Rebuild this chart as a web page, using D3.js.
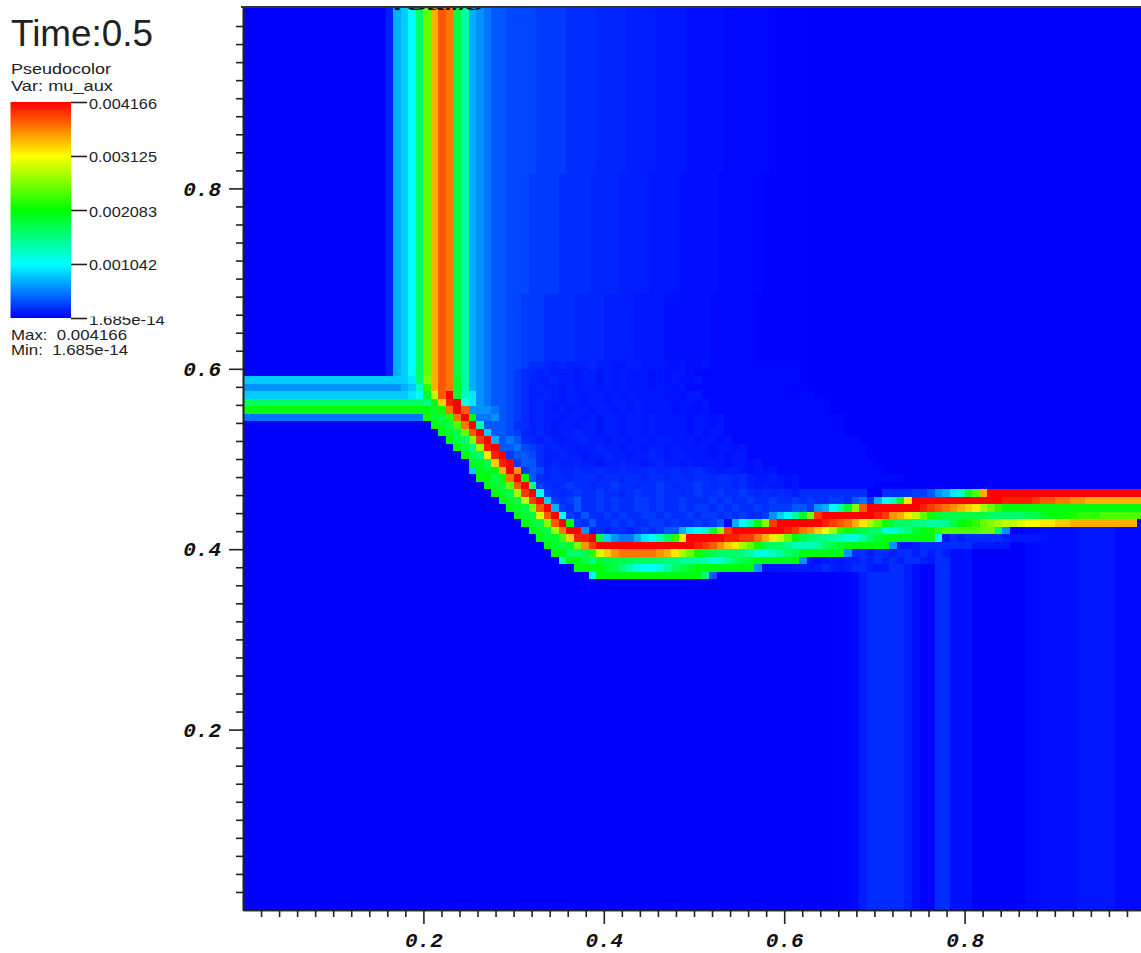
<!DOCTYPE html>
<html lang="en">
<head>
	<meta charset="UTF-8">
	<title>mu_aux</title>
	<script src="https://d3js.org/d3.v7.min.js"></script>
	<style>
		html,body{
			margin:0;
			background:white;
		}
		svg{
			display:block;
		}
		.label{
			font-family:"Liberation Sans",sans-serif;
			fill:#222;
		}
		.axis text{
			font-family:"Liberation Mono",monospace;
			font-weight:bold;
			font-style:italic;
			font-size:21px;
			fill:#111;
		}
		.axis line,.axis path,.bar_axis line{
			stroke:#222;
			stroke-width:1.6;
		}
		.bar_axis path{
			display:none;
		}
		.bar_axis text{
			font-family:"Liberation Sans",sans-serif;
			font-size:15px;
			fill:#222;
		}
	</style>
</head>
<body>
	<svg width="1141" height="953"></svg>
	<script>
		var maxValue = 0.004166,
			minValue = 1.685e-14,
			gridSize = 120;

		var barValues = [1.685e-14,0.001042,0.002083,0.003125,0.004166];
		var barLabels = ["1.685e-14","0.001042","0.002083","0.003125","0.004166"];
		var majorTicks = [0.2,0.4,0.6,0.8];
		var majorLabels = ["0.2","0.4","0.6","0.8"];

		// colour levels: 0-9a-z runs from 0 to max, capitals are the faint steps below 3
		var levelChars = "0123456789abcdefghijklmnopqrstuvwxyz";
		var faintLevels = {D:0.004,E:0.008,A:0.015,F:0.022,H:0.036,B:0.043,C:0.071};

		// x{n} means x repeated n times
		var topColumns = "0{19}1679eltwvfc65433CCCC2222BBBBHHHH1111FFFFAAAAAEEEEEEDDDDD0{45}";
		var upperColumns = "0{19}1679eltwvfc65433CCC2222BBBBHHHH1111FFFFAAAAAEEEEEEDDDDDD0{45}";
		var lowerColumns = "0{19}1679eltwvfc65433CC222BBBBHHHH1111FFFFAAAAAAEEEEEEDDDDDDD0{45}";
		var emptyColumns = "0{120}";
		var bottomColumns = "0{79}DDE1BBBBB1ADDBBAAA0{7}EEAAAAAFFFFFEEEEE";

		// [row from the top, first column, levels]
		var faintPatches = [
			[47,35,"CC2BBH1H111H11FF11FFFFAFAAFE{12}"],
			[48,35,"C2BH1H111F11F1F1FFFAFAFFAE{14}"],
			[49,33,"33C2BH11H11F11F1F1FFFAFAFAAFE{13}"],
			[50,33,"33C2B1H11F1F11F1F1FFFAFFAFE{14}"],
			[51,32,"433C2B11H1F11F11F1F1FFFFAFAFFE{15}"],
			[52,32,"433C2B1H11F11F11F11F1FFFFAFFAFE{16}"],
			[53,31,"5543C2B1H1F1F11F11F1F1FFFFAFAAFE{16}"],
			[54,31,"4453C2B1H11F11F1F11F11F1FFFFAFFAFE{16}"],
			[55,32,"333CBB1H1F11F11F11F11F1FFFFAFFAFE{16}"],
			[56,33,"33C2H1H1F11H11F11F11F1FFFFAFAFFE{16}"],
			[57,34,"343BH1H1F11H11F11F11F11FFFAFFAFE{17}"],
			[58,34,"334C2B1H11F11H11F11F11F1FFFFAFFAFE{16}"],
			[59,35,"233CB11H11F11H11F11H1F11FFFAFAFFE{16}"],
			[60,36,"233B1H11H11F11H11F1H11F1FFFFAFFAFE{15}"],
			[61,37,"23CHBHHBHHBHHBHHHBHHBHHBH1F11FAFAFE{14}"],
			[62,38,"3BHBBHBBBHBBHBBHBBHBBHBBHBBHB1FF1FAFE{14}"],
			[63,39,"2BHB2BBHBB2BBHBB2BHBB2BHBBHB1F1FFAFE{10}"],
			[64,40,"2BHB2BB2BBHB2BB2BBHB2BB2BB2BHBHBH1BBB{7}"],
			[65,41,"2B23BB2B2BB22B2BB2BBB2B2BB2BB2BB2B2BB22B34"],
			[66,42,"2B3BB2B2BB22B2BB2B22B2B2BB2B222332"],
			[67,43,"2B3BB2B2BB22B2BB2B22B2B2BB2B3"],
			[68,44,"2B3BB2B2BB22B2BB2B23"],
			[69,46,"1B1BB1B2B233"],
			[70,93,"FB1BBBBB1FFFFF"],
			[71,87,"FF1BBBBBBBFFFFF"],
			[72,81,"BB1BB1BB1B1B1"],
			[73,75,"FAF1F11B1B1B1BB1F"],
			[74,69,"AFFF11F1B1F1BB1FF"]
		];

		var bandPatches = [
			[49,0,"7{22}8emtwvgc6"],
			[50,0,"5{21}67bjtwvgc6"],
			[51,0,"7{22}89gowzgb85"],
			[52,0,"e{24}dhsyz985"],
			[53,0,"h{25}givzw5"],
			[54,0,"4{24}igfjvzh4"],
			[55,25,"hgfkvzc"],
			[56,26,"hgflwz7"],
			[57,27,"hfemxz6"],
			[58,28,"hfdnyz"],
			[59,29,"hferyz"],
			[60,30,"hgfsyz"],
			[61,30,"7hghtzu"],
			[62,31,"hhfivzh"],
			[63,32,"hgflwzd"],
			[64,33,"hgfnxz9"],
			[64,85,"BBBB223568bgktz{21}"],
			[65,34,"hgfoxz7"],
			[65,84,"69bhrz{12}y{4}xwwvvuut{8}"],
			[66,35,"hgfmwz6"],
			[66,76,"569cgmwz{7}yxwvutsrnljh{19}"],
			[67,36,"hgfpwz9"],
			[67,70,"579cgmxz{7}yxutroligf{6}e{5}ffghhiijjjk{6}"],
			[68,37,"hgfmwzh"],
			[68,65,"69chmxz{6}yxwvtrnlifeeddccdfhijlmnoopqqrrsst{9}"],
			[69,38,"hgfnvzz5"],
			[69,58,"689bgmxz{7}yxvusqnjigfeeaacdghijk{5}lle5"],
			[70,39,"hggksyyzf7544689bejrz{5}yyxxvtrolhfeddcbaacegh{7}9"],
			[71,40,"hgfgmuxz{13}yxwusrnlifeedbbbcefgh{6}5"],
			[72,41,"hheefjpsuvvvvvutrnligfeeedcaabcefh{6}5"],
			[73,42,"bhhfdgffffeeeeddcccbaacefgh{6}5"],
			[74,44,"hhhhgfdba99acefgh{8}5"],
			[75,46,"9h{14}d3"]
		];

		function expand(text){
			return text.replace(/(.)\{(\d+)\}/g,function(m,c,n){
				return c.repeat(+n);
			});
		}

		function levelOf(c){
			if(c in faintLevels) return faintLevels[c];
			return levelChars.indexOf(c)/35;
		}

		function backgroundOf(r){
			if(r<22) return topColumns;
			if(r<38) return upperColumns;
			if(r<55) return lowerColumns;
			if(r<65) return emptyColumns;
			return bottomColumns;
		}

		// build the grid, stripes first and the patches over them
		var grid = d3.range(gridSize).map(function(r){
			return expand(backgroundOf(r)).split("");
		});
		faintPatches.concat(bandPatches).forEach(function(p){
			expand(p[2]).split("").forEach(function(c,i){
				if(p[1]+i<gridSize) grid[p[0]][p[1]+i] = c;
			});
		});

		var cells = [];
		grid.forEach(function(row,r){
			row.forEach(function(c,col){
				cells.push({col:col,row:r,value:levelOf(c)*maxValue});
			});
		});

		var svg = d3.select("svg");

		var x = d3.scaleLinear().domain([0,1]).range([243,1145]);
		var y = d3.scaleLinear().domain([0,1]).range([910,8]);
		var color = d3.scaleLinear()
			.domain([0,0.25,0.5,0.75,1].map(function(d){return d*maxValue;}))
			.range(["#0000ff","#00ffff","#00ff00","#ffff00","#ff0000"]);

		var step = 1/gridSize;
		svg.append("g")
			.attr("shape-rendering","crispEdges")
			.selectAll("rect")
			.data(cells)
			.enter().append("rect")
			.attr("x",function(d){return x(d.col*step);})
			.attr("y",function(d){return y(1-d.row*step);})
			.attr("width",x(step)-x(0)+0.5)
			.attr("height",y(0)-y(step)+0.5)
			.attr("fill",function(d){return color(d.value);});

		// cut off title under the top edge, only its lower rim shows
		var defs = svg.append("defs");
		defs.append("clipPath").attr("id","title_clip")
			.append("rect").attr("x",380).attr("y",6).attr("width",120).attr("height",5);
		svg.append("text")
			.attr("clip-path","url(#title_clip)")
			.attr("x",389).attr("y",10)
			.attr("font-family","Liberation Mono")
			.attr("font-weight","bold")
			.attr("font-style","italic")
			.attr("font-size",13)
			.attr("textLength",95)
			.attr("lengthAdjust","spacingAndGlyphs")
			.attr("fill","#111")
			.text(".Same");

		// axes
		var minorTicks = d3.range(1,50).map(function(d){return d*0.02;})
			.filter(function(d){return majorTicks.every(function(m){return Math.abs(m-d)>0.001;});});
		var tick_label = function(d,i){return majorLabels[i];};

		svg.append("g").attr("class","axis").attr("transform","translate(0,910)")
			.call(d3.axisBottom(x).tickValues(minorTicks).tickSize(7).tickSizeOuter(0).tickFormat(""));
		svg.append("g").attr("class","axis").attr("transform","translate(0,910)")
			.call(d3.axisBottom(x).tickValues(majorTicks).tickSize(14).tickSizeOuter(0).tickPadding(8).tickFormat(tick_label));
		svg.append("g").attr("class","axis").attr("transform","translate(243,0)")
			.call(d3.axisLeft(y).tickValues(minorTicks).tickSize(7).tickSizeOuter(0).tickFormat(""));
		svg.append("g").attr("class","axis").attr("transform","translate(243,0)")
			.call(d3.axisLeft(y).tickValues(majorTicks).tickSize(14).tickSizeOuter(0).tickPadding(8).tickFormat(tick_label));
		svg.append("line")
			.attr("x1",241).attr("x2",1141).attr("y1",7).attr("y2",7)
			.attr("stroke","#333").attr("stroke-width",2);

		// legend
		var barY = d3.scaleLinear().domain([minValue,maxValue]).range([318,102]);
		var grad = defs.append("linearGradient").attr("id","bar_grad")
			.attr("x1",0).attr("x2",0).attr("y1",1).attr("y2",0);
		color.domain().forEach(function(d,i){
			grad.append("stop").attr("offset",(i*25)+"%").attr("stop-color",color(d));
		});
		svg.append("rect")
			.attr("x",10.5).attr("width",60.5)
			.attr("y",barY(maxValue)).attr("height",barY(minValue)-barY(maxValue))
			.attr("fill","url(#bar_grad)");

		var bar_g = svg.append("g").attr("class","bar_axis").attr("transform","translate(71,0)")
			.call(d3.axisRight(barY).tickValues(barValues).tickSize(16).tickPadding(2)
				.tickFormat(function(d,i){return barLabels[i];}));
		bar_g.selectAll("text")
			.attr("dy","6px")
			.attr("textLength",function(d,i){return i==0 ? 76 : 68;})
			.attr("lengthAdjust","spacingAndGlyphs");

		// the lowest bar label loses its top in the original
		defs.append("clipPath").attr("id","low_clip")
			.append("rect").attr("x",0).attr("y",-2).attr("width",120).attr("height",20);
		bar_g.selectAll("text").filter(function(d,i){return i==0;})
			.attr("clip-path","url(#low_clip)");

		var labels = [
			["Time:0.5",11,46,36,142],
			["Pseudocolor",11,74,15,100],
			["Var: mu_aux",11,91,15,102],
			["Max:  0.004166",11,340,15,116],
			["Min:  1.685e-14",11,355,15,117]
		];
		svg.selectAll("text.label")
			.data(labels)
			.enter().append("text")
			.attr("class","label")
			.style("white-space","pre")
			.attr("x",function(d){return d[1];})
			.attr("y",function(d){return d[2];})
			.attr("font-size",function(d){return d[3];})
			.attr("textLength",function(d){return d[4];})
			.attr("lengthAdjust","spacingAndGlyphs")
			.text(function(d){return d[0];});
	</script>
</body>
</html>
